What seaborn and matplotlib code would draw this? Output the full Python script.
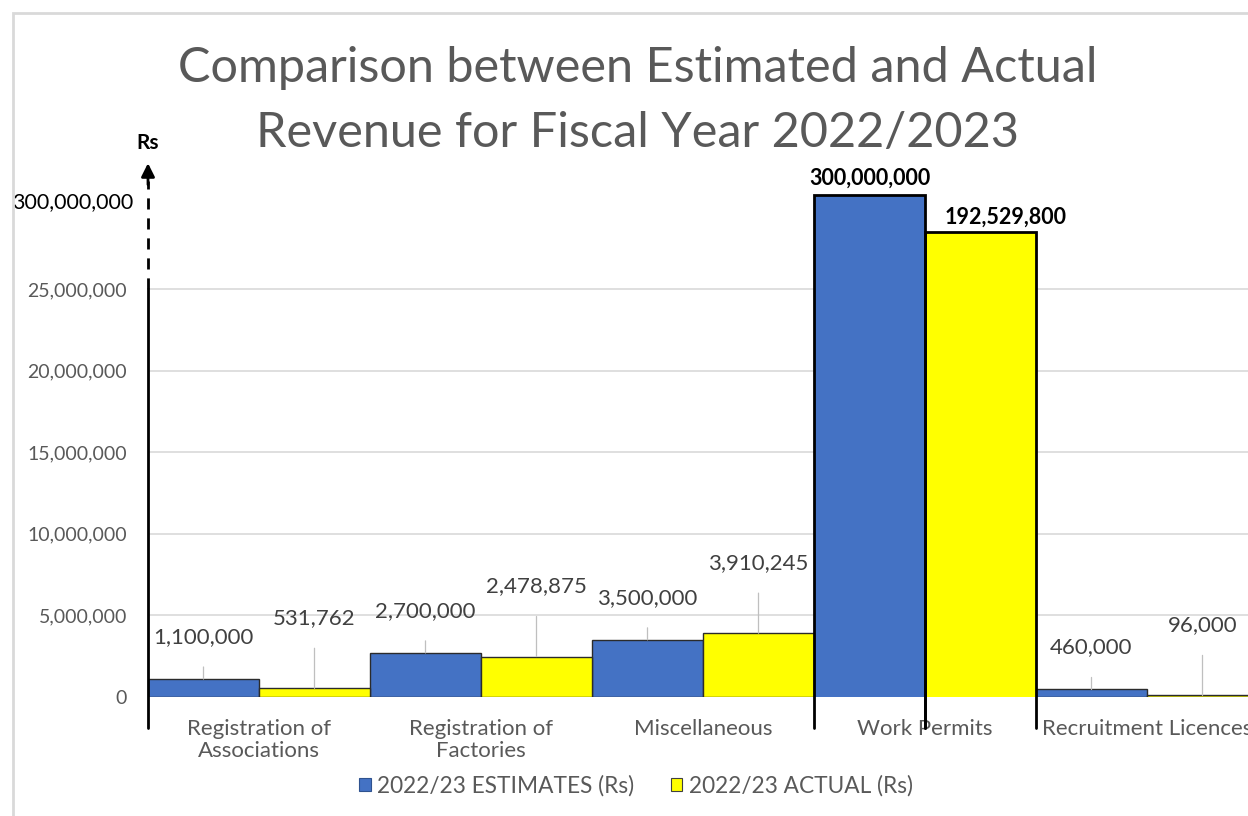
import numpy as np
import pandas as pd
import matplotlib
matplotlib.use("Agg")
import matplotlib.pyplot as plt
import seaborn as sns
from matplotlib.patches import Rectangle, Patch
from matplotlib.lines import Line2D

# ---- data -------------------------------------------------------------
categories = ["Registration of\nAssociations", "Registration of\nFactories",
              "Miscellaneous", "Work Permits", "Recruitment Licences"]
series = ["2022/23 ESTIMATES (Rs)", "2022/23 ACTUAL (Rs)"]
estimates = [1100000, 2700000, 3500000, 300000000, 460000]
actuals = [531762, 2478875, 3910245, 192529800, 96000]
y_ticks = [0, 5000000, 10000000, 15000000, 20000000, 25000000]
break_value = 25000000      # axis is linear up to here, compressed above
top_tick = 300000000

title_lines = ["Comparison between Estimated and Actual",
               "Revenue for Fiscal Year 2022/2023"]

BLUE = "#4472C4"
YELLOW = "#FFFF00"
GREY_TXT = "#595959"
LABEL_TXT = "#404040"
GRID = "#d9d9d9"

sns.set_theme(style="white")
plt.rcParams["font.family"] = ["Lato", "DejaVu Sans"]

df = pd.DataFrame({
    "category": categories * 2,
    "series": [series[0]] * len(categories) + [series[1]] * len(categories),
    "value": estimates + actuals,
})

W, H = 1248, 816
fig = plt.figure(figsize=(W / 100, H / 100), dpi=100)
fig.patch.set_facecolor("white")
ax = fig.add_axes([148 / W, 1 - 697 / H, 1110 / W, 536.5 / H])

SQUEEZE = 0.021


def fwd(y):
    y = np.asarray(y, dtype=float)
    return np.where(y <= break_value, y, break_value + (y - break_value) * SQUEEZE)


def inv(t):
    t = np.asarray(t, dtype=float)
    return np.where(t <= break_value, t, break_value + (t - break_value) / SQUEEZE)


sns.barplot(data=df, x="category", y="value", hue="series",
            palette=[BLUE, YELLOW], saturation=1, width=1.0, dodge=True,
            errorbar=None, legend=False, ax=ax)

ax.set_yscale("function", functions=(fwd, inv))
ax.set_xlim(-0.5, 4.5)
ax.set_ylim(0, 400e6)

for sp in ax.spines.values():
    sp.set_visible(False)
ax.set_xlabel("")
ax.set_ylabel("")
ax.set_yticks(y_ticks)
ax.set_yticklabels([f"{v:,}" for v in y_ticks])
ax.yaxis.grid(True, color=GRID, lw=1.2)
ax.set_axisbelow(True)
ax.tick_params(axis="y", length=0, pad=15, labelsize=14, labelcolor=GREY_TXT)
ax.tick_params(axis="x", length=0, pad=16, labelsize=16, labelcolor=GREY_TXT)
for lab in ax.get_xticklabels():
    lab.set_linespacing(1.1)

# axes-fraction helper
data_to_axes = ax.transScale + ax.transLimits
ax_h_px = 536.5
drop = 31 / ax_h_px


def yfrac(v):
    return data_to_axes.transform((0, v))[1]


xblend = ax.get_xaxis_transform()

est_bars = ax.containers[0]
act_bars = ax.containers[1]
big_index = int(np.argmax(estimates))

for bars in (est_bars, act_bars):
    for i, p in enumerate(bars):
        if i == big_index:
            p.set_linewidth(0)
        else:
            p.set_edgecolor("#2b2b2b")
            p.set_linewidth(1)

# outlines of the oversized bars, running down past the baseline
for bars, vals in ((est_bars, estimates), (act_bars, actuals)):
    p = bars[big_index]
    x0, x1 = p.get_x(), p.get_x() + p.get_width()
    ft = yfrac(vals[big_index])
    ax.add_line(Line2D([x0, x0, x1, x1], [-drop, ft, ft, -drop],
                       transform=xblend, color="black", lw=2,
                       clip_on=False, zorder=5, solid_joinstyle="miter"))

# data labels with leader lines
for bars, vals, off in ((est_bars, estimates, 42), (act_bars, actuals, 70)):
    for i, (p, v) in enumerate(zip(bars, vals)):
        cx = p.get_x() + p.get_width() / 2
        if i == big_index:
            continue
        ax.annotate(f"{v:,}", xy=(cx, v), xytext=(0, off),
                    textcoords="offset pixels", ha="center", va="center",
                    fontsize=16, color=LABEL_TXT,
                    arrowprops=dict(arrowstyle="-", color="#bfbfbf", lw=0.9,
                                    shrinkA=12, shrinkB=0,
                                    relpos=(0.5, 0.5)))

pe = est_bars[big_index]
pa = act_bars[big_index]
ax.annotate(f"{estimates[big_index]:,}",
            xy=(pe.get_x() + pe.get_width() / 2, estimates[big_index]),
            xytext=(0, 17), textcoords="offset pixels", ha="center",
            va="center", fontsize=15.5, fontweight="bold", color="black")
ax.annotate(f"{actuals[big_index]:,}",
            xy=(pa.get_x() + pa.get_width() / 2, actuals[big_index]),
            xytext=(25, 14), textcoords="offset pixels", ha="center",
            va="center", fontsize=15.5, fontweight="bold", color="black")

# y axis: solid up to the break, dashed beyond, arrow at the top
y_brk = yfrac(break_value)
ax.add_line(Line2D([0, 0], [-drop, y_brk], transform=ax.transAxes,
                   color="black", lw=2, clip_on=False, zorder=6))
ax.add_line(Line2D([0, 0], [y_brk, 0.962], transform=ax.transAxes,
                   color="black", lw=2, ls=(0, (4, 3.2)), clip_on=False,
                   zorder=6))
ax.annotate("", xy=(0, 0.995), xytext=(0, 0.955), xycoords="axes fraction",
            textcoords="axes fraction",
            arrowprops=dict(arrowstyle="-|>", color="black", lw=2,
                            mutation_scale=20, shrinkA=0, shrinkB=0),
            zorder=6)
ax.text(0, 1.033, "Rs", transform=ax.transAxes, ha="center", va="center",
        fontsize=15, fontweight="bold", color="black")
ax.text(-0.013, yfrac(top_tick) - 7 / ax_h_px, f"{top_tick:,}",
        transform=ax.transAxes, ha="right", va="center", fontsize=15.5,
        color="black", zorder=7,
        bbox=dict(boxstyle="square,pad=0.25", fc="white", ec="none"))

# chart frame (open to the right and bottom)
frame_top = 1 - 13 / H
fig.patches.append(Rectangle((13 / W, -0.2), 1.2, frame_top + 0.2,
                             transform=fig.transFigure, fill=False,
                             ec="#d9d9d9", lw=2, zorder=0))

# title
fig.text(638 / W, 1 - 82 / H, title_lines[0], ha="center", va="baseline",
         fontsize=35, color=GREY_TXT)
fig.text(638 / W, 1 - 147 / H, title_lines[1], ha="center", va="baseline",
         fontsize=35, color=GREY_TXT)

# legend
handles = [Patch(facecolor=BLUE, edgecolor="#2f528f", lw=0.8, label=series[0]),
           Patch(facecolor=YELLOW, edgecolor="#404040", lw=0.8, label=series[1])]
fig.legend(handles=handles, loc="center", bbox_to_anchor=(636 / W, 1 - 786 / H),
           ncol=2, frameon=False, fontsize=16.3, labelcolor=GREY_TXT,
           handlelength=0.5, handleheight=0.5, handletextpad=0.3,
           columnspacing=1.6)

fig.savefig("out.png", dpi=100, facecolor="white")
